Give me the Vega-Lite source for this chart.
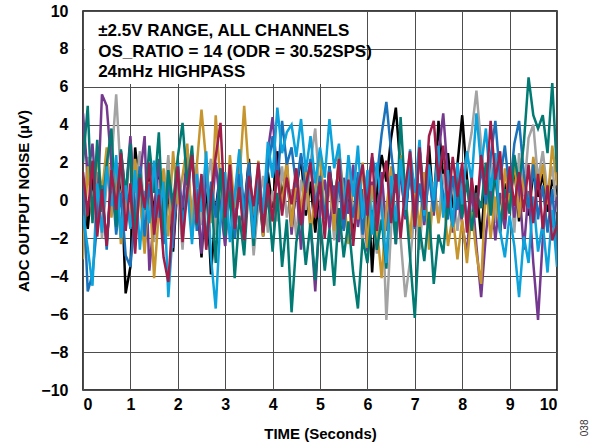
{
"$schema": "https://vega.github.io/schema/vega-lite/v6.json",
"width": 474, "height": 379,
"autosize": {"type": "none"},
"padding": {"left": 83, "top": 11, "right": 37, "bottom": 54},
"background": "white",
"config": {"font": "Liberation Sans", "view": {"stroke": "black", "strokeWidth": 1.5},
  "axis": {"grid": true, "gridColor": "#4d4d4d", "gridWidth": 1, "gridOpacity": 1, "ticks": false, "domain": false, "labelOverlap": false,
    "labelFont": "Liberation Sans", "labelFontSize": 16, "labelFontWeight": "bold", "labelColor": "black",
    "titleFont": "Liberation Sans", "titleFontSize": 15, "titleFontWeight": "bold", "titleColor": "black"},
  "axisX": {"labelPadding": 6, "titlePadding": 14},
  "axisY": {"labelPadding": 15, "titlePadding": 9}},
"datasets": {
"noise": [
{"t":0.0,"k":0.5,"g":-1.2,"b":1.0,"p":4.6,"o":-3.1,"e":2.0,"l":-0.8,"m":1.5},
{"t":0.1,"k":-1.5,"g":2.3,"b":-4.8,"p":1.2,"o":1.8,"e":5.0,"l":-2.5,"m":-0.8},
{"t":0.2,"k":1.2,"g":-0.5,"b":-3.9,"p":3.0,"o":-1.0,"e":-1.2,"l":-4.5,"m":2.1},
{"t":0.3,"k":-0.8,"g":1.5,"b":-1.2,"p":-0.7,"o":2.5,"e":3.2,"l":0.9,"m":-1.9},
{"t":0.4,"k":0.3,"g":-2.0,"b":0.8,"p":5.6,"o":0.4,"e":-0.6,"l":-1.7,"m":0.6},
{"t":0.5,"k":-2.2,"g":0.9,"b":-2.6,"p":5.0,"o":2.8,"e":1.9,"l":1.8,"m":-2.4},
{"t":0.6,"k":0.9,"g":2.0,"b":1.5,"p":1.8,"o":-0.9,"e":3.8,"l":-0.3,"m":1.6},
{"t":0.7,"k":-1.0,"g":5.6,"b":-1.8,"p":-1.3,"o":1.5,"e":-1.4,"l":2.4,"m":-0.5},
{"t":0.8,"k":1.7,"g":1.2,"b":0.4,"p":2.6,"o":-2.3,"e":2.7,"l":-2.0,"m":2.5},
{"t":0.9,"k":-4.9,"g":-0.8,"b":-2.9,"p":0.2,"o":0.6,"e":0.3,"l":0.8,"m":-1.6},
{"t":1.0,"k":-3.5,"g":3.2,"b":-3.5,"p":3.4,"o":-1.4,"e":3.0,"l":-1.5,"m":0.9},
{"t":1.1,"k":2.8,"g":0.4,"b":-0.6,"p":-0.9,"o":2.2,"e":-2.0,"l":1.6,"m":-2.8},
{"t":1.2,"k":0.5,"g":2.6,"b":1.8,"p":1.2,"o":0.1,"e":1.4,"l":-2.6,"m":1.2},
{"t":1.3,"k":-2.4,"g":-1.0,"b":-1.9,"p":3.4,"o":-2.8,"e":-0.5,"l":0.5,"m":-0.4},
{"t":1.4,"k":1.3,"g":0.7,"b":0.9,"p":-3.7,"o":1.0,"e":2.9,"l":-1.2,"m":2.0},
{"t":1.5,"k":-0.7,"g":-2.2,"b":-1.4,"p":-0.8,"o":-4.1,"e":0.4,"l":2.1,"m":-1.8},
{"t":1.6,"k":2.0,"g":1.1,"b":0.6,"p":2.2,"o":-0.6,"e":3.6,"l":-0.9,"m":0.3},
{"t":1.7,"k":-1.8,"g":-0.4,"b":-2.3,"p":-1.6,"o":1.7,"e":-1.8,"l":1.0,"m":-3.0},
{"t":1.8,"k":0.6,"g":2.4,"b":1.3,"p":0.9,"o":-1.9,"e":1.6,"l":-5.1,"m":-4.3},
{"t":1.9,"k":-2.7,"g":-1.6,"b":-0.5,"p":-2.5,"o":2.6,"e":-0.2,"l":-1.4,"m":-0.6},
{"t":2.0,"k":1.0,"g":0.6,"b":2.1,"p":1.5,"o":-0.2,"e":2.3,"l":1.9,"m":1.8},
{"t":2.1,"k":-0.9,"g":-2.6,"b":-1.1,"p":-0.4,"o":1.3,"e":4.1,"l":-1.8,"m":-2.2},
{"t":2.2,"k":1.9,"g":1.4,"b":0.2,"p":2.7,"o":3.0,"e":0.8,"l":0.7,"m":0.5},
{"t":2.3,"k":-1.6,"g":-0.7,"b":2.5,"p":-1.9,"o":-1.5,"e":2.9,"l":-2.3,"m":2.4},
{"t":2.4,"k":0.4,"g":1.9,"b":-1.6,"p":0.6,"o":1.8,"e":-1.3,"l":1.4,"m":-1.2},
{"t":2.5,"k":-3.0,"g":-1.3,"b":0.7,"p":-2.8,"o":4.8,"e":1.0,"l":-0.6,"m":1.4},
{"t":2.6,"k":1.1,"g":0.8,"b":-2.2,"p":1.7,"o":2.0,"e":-2.4,"l":2.6,"m":-2.6},
{"t":2.7,"k":-3.9,"g":2.2,"b":1.0,"p":-1.1,"o":-1.2,"e":0.6,"l":-3.0,"m":0.2},
{"t":2.8,"k":-0.5,"g":-1.8,"b":-0.9,"p":2.0,"o":4.5,"e":-3.3,"l":-5.7,"m":2.3},
{"t":2.9,"k":1.6,"g":0.3,"b":1.7,"p":-0.3,"o":0.9,"e":1.7,"l":-1.0,"m":4.1},
{"t":3.0,"k":-1.2,"g":-2.4,"b":-1.3,"p":-2.4,"o":-1.7,"e":-1.9,"l":1.5,"m":-0.9},
{"t":3.1,"k":0.8,"g":1.6,"b":0.5,"p":1.0,"o":2.4,"e":0.5,"l":-2.2,"m":1.9},
{"t":3.2,"k":-2.0,"g":-0.6,"b":-2.0,"p":-1.5,"o":-0.4,"e":-4.1,"l":0.3,"m":-1.5},
{"t":3.3,"k":1.4,"g":2.7,"b":1.4,"p":2.3,"o":1.1,"e":-0.8,"l":2.7,"m":0.7},
{"t":3.4,"k":-0.6,"g":-1.5,"b":-0.8,"p":-0.6,"o":5.0,"e":-2.9,"l":-1.3,"m":-2.1},
{"t":3.5,"k":2.2,"g":0.9,"b":2.0,"p":1.8,"o":1.4,"e":0.9,"l":0.8,"m":1.3},
{"t":3.6,"k":-1.3,"g":-2.9,"b":-1.7,"p":-2.0,"o":-0.8,"e":-2.4,"l":-2.0,"m":-0.3},
{"t":3.7,"k":0.9,"g":-0.2,"b":0.9,"p":0.4,"o":2.1,"e":1.2,"l":1.9,"m":2.0},
{"t":3.8,"k":-1.9,"g":1.3,"b":-0.6,"p":-1.4,"o":-1.9,"e":-1.6,"l":-0.7,"m":-1.7},
{"t":3.9,"k":1.5,"g":-1.7,"b":1.6,"p":2.6,"o":0.7,"e":0.3,"l":3.1,"m":0.9},
{"t":4.0,"k":-0.4,"g":0.5,"b":3.4,"p":4.4,"o":-1.1,"e":-2.7,"l":1.2,"m":-1.1},
{"t":4.1,"k":2.6,"g":-1.1,"b":0.8,"p":1.3,"o":1.6,"e":0.4,"l":4.9,"m":1.6},
{"t":4.2,"k":0.2,"g":1.8,"b":4.2,"p":-0.5,"o":-0.3,"e":-3.5,"l":2.5,"m":-0.8},
{"t":4.3,"k":1.7,"g":-0.9,"b":1.9,"p":2.0,"o":2.2,"e":-1.0,"l":3.6,"m":1.2},
{"t":4.4,"k":-1.4,"g":0.6,"b":2.8,"p":-1.8,"o":-1.4,"e":-5.9,"l":4.0,"m":-0.2},
{"t":4.5,"k":0.6,"g":-1.9,"b":0.7,"p":0.9,"o":1.2,"e":-2.2,"l":2.3,"m":1.7},
{"t":4.6,"k":2.3,"g":1.1,"b":2.5,"p":-2.6,"o":-0.6,"e":-0.7,"l":4.3,"m":-1.3},
{"t":4.7,"k":-0.8,"g":-0.5,"b":0.4,"p":1.4,"o":1.9,"e":-3.4,"l":1.5,"m":0.8},
{"t":4.8,"k":1.0,"g":2.0,"b":2.2,"p":-1.2,"o":-1.8,"e":-1.2,"l":3.4,"m":2.0},
{"t":4.9,"k":-1.7,"g":3.8,"b":-0.3,"p":-4.8,"o":0.5,"e":-4.2,"l":0.9,"m":-0.9},
{"t":5.0,"k":0.7,"g":0.2,"b":1.3,"p":-0.4,"o":2.5,"e":-0.9,"l":2.8,"m":1.0},
{"t":5.1,"k":-1.1,"g":-1.4,"b":-1.0,"p":1.1,"o":-0.7,"e":-3.7,"l":1.2,"m":-2.0},
{"t":5.2,"k":1.8,"g":1.0,"b":1.8,"p":-1.5,"o":1.4,"e":-1.5,"l":4.3,"m":1.5},
{"t":5.3,"k":-0.3,"g":-2.1,"b":-0.7,"p":0.8,"o":-1.6,"e":-4.5,"l":1.7,"m":-0.7},
{"t":5.4,"k":2.0,"g":0.8,"b":1.0,"p":-2.2,"o":2.7,"e":-0.4,"l":3.0,"m":2.2},
{"t":5.5,"k":-1.5,"g":-0.9,"b":-1.6,"p":1.2,"o":0.3,"e":-3.0,"l":-0.6,"m":-1.0},
{"t":5.6,"k":0.4,"g":1.7,"b":0.6,"p":-0.7,"o":-2.3,"e":-1.1,"l":2.4,"m":1.1},
{"t":5.7,"k":-2.1,"g":-1.2,"b":-0.9,"p":1.9,"o":1.0,"e":-3.8,"l":0.2,"m":-2.4},
{"t":5.8,"k":1.2,"g":0.4,"b":1.5,"p":-1.4,"o":-1.0,"e":-5.7,"l":2.9,"m":0.6},
{"t":5.9,"k":-0.7,"g":-2.3,"b":-1.8,"p":0.6,"o":2.0,"e":-2.0,"l":-0.9,"m":1.9},
{"t":6.0,"k":1.4,"g":1.5,"b":0.8,"p":-2.7,"o":-2.5,"e":-3.3,"l":1.6,"m":-0.8},
{"t":6.1,"k":-3.8,"g":-0.6,"b":2.3,"p":1.0,"o":0.8,"e":-0.5,"l":-1.8,"m":2.5},
{"t":6.2,"k":0.5,"g":-2.8,"b":1.2,"p":-0.8,"o":-1.4,"e":-2.6,"l":2.0,"m":-1.6},
{"t":6.3,"k":2.4,"g":0.9,"b":3.5,"p":1.5,"o":-4.1,"e":-1.0,"l":-0.4,"m":0.9},
{"t":6.4,"k":1.0,"g":-6.3,"b":5.2,"p":-1.6,"o":-0.5,"e":-3.6,"l":-3.3,"m":2.1},
{"t":6.5,"k":3.3,"g":-1.5,"b":2.6,"p":0.7,"o":1.8,"e":0.9,"l":1.3,"m":-1.2},
{"t":6.6,"k":4.9,"g":1.2,"b":0.4,"p":-2.3,"o":-1.3,"e":-2.3,"l":-1.1,"m":1.4},
{"t":6.7,"k":1.6,"g":-2.0,"b":2.0,"p":1.8,"o":2.4,"e":4.4,"l":2.2,"m":-2.0},
{"t":6.8,"k":-0.9,"g":-5.1,"b":-0.8,"p":-1.0,"o":0.2,"e":0.2,"l":-0.5,"m":0.7},
{"t":6.9,"k":1.8,"g":-3.2,"b":1.7,"p":2.0,"o":-2.0,"e":-3.0,"l":2.7,"m":2.6},
{"t":7.0,"k":-1.0,"g":-0.5,"b":-1.5,"p":-0.4,"o":1.1,"e":-6.2,"l":0.4,"m":-1.4},
{"t":7.1,"k":2.7,"g":-2.6,"b":0.9,"p":2.8,"o":-1.6,"e":-1.4,"l":3.2,"m":2.8},
{"t":7.2,"k":0.1,"g":0.6,"b":-1.1,"p":-1.3,"o":1.5,"e":-3.2,"l":-0.8,"m":-0.5},
{"t":7.3,"k":2.9,"g":-1.8,"b":1.4,"p":1.6,"o":-2.6,"e":-0.6,"l":1.9,"m":3.4},
{"t":7.4,"k":-0.6,"g":1.0,"b":-0.6,"p":-0.8,"o":0.7,"e":-4.4,"l":0.0,"m":4.2},
{"t":7.5,"k":4.2,"g":-0.9,"b":2.2,"p":2.5,"o":-1.2,"e":-1.8,"l":2.9,"m":1.0},
{"t":7.6,"k":1.1,"g":1.4,"b":0.3,"p":4.6,"o":0.4,"e":-2.8,"l":-0.9,"m":2.9},
{"t":7.7,"k":2.5,"g":-0.3,"b":-1.0,"p":1.2,"o":-2.4,"e":0.1,"l":1.6,"m":-0.4},
{"t":7.8,"k":-0.4,"g":0.8,"b":1.3,"p":-1.7,"o":-0.8,"e":-1.3,"l":-1.4,"m":2.3},
{"t":7.9,"k":1.9,"g":-1.6,"b":-0.5,"p":0.3,"o":-3.1,"e":1.5,"l":2.0,"m":0.2},
{"t":8.0,"k":4.5,"g":0.7,"b":1.6,"p":-1.2,"o":-1.0,"e":-0.9,"l":-0.2,"m":2.0},
{"t":8.1,"k":1.2,"g":2.2,"b":-1.2,"p":-2.9,"o":-3.3,"e":1.1,"l":2.6,"m":-1.7},
{"t":8.2,"k":-1.4,"g":3.6,"b":0.9,"p":0.8,"o":-0.6,"e":-1.6,"l":1.0,"m":1.2},
{"t":8.3,"k":0.8,"g":5.8,"b":-0.7,"p":-2.4,"o":-2.8,"e":0.4,"l":4.6,"m":-0.9},
{"t":8.4,"k":-2.0,"g":2.9,"b":1.8,"p":-5.1,"o":-4.4,"e":-0.4,"l":1.8,"m":2.4},
{"t":8.5,"k":1.3,"g":0.5,"b":-0.2,"p":-1.8,"o":0.9,"e":2.0,"l":3.8,"m":0.3},
{"t":8.6,"k":-0.5,"g":2.4,"b":2.3,"p":0.6,"o":-2.0,"e":-0.8,"l":0.5,"m":4.2},
{"t":8.7,"k":1.6,"g":-1.2,"b":4.2,"p":-2.1,"o":0.2,"e":1.7,"l":2.5,"m":1.1},
{"t":8.8,"k":-1.7,"g":1.9,"b":1.1,"p":0.4,"o":-1.5,"e":-1.4,"l":-1.6,"m":2.6},
{"t":8.9,"k":0.9,"g":-0.4,"b":2.9,"p":-1.5,"o":1.7,"e":0.6,"l":-3.0,"m":-1.0},
{"t":9.0,"k":-0.2,"g":1.6,"b":0.4,"p":1.3,"o":-0.3,"e":-0.7,"l":-0.8,"m":1.8},
{"t":9.1,"k":1.8,"g":-1.7,"b":3.0,"p":-0.9,"o":2.1,"e":2.4,"l":-2.4,"m":-0.3},
{"t":9.2,"k":-1.1,"g":2.5,"b":4.2,"p":0.9,"o":-0.9,"e":0.8,"l":-5.1,"m":1.5},
{"t":9.3,"k":1.0,"g":0.3,"b":1.4,"p":-2.6,"o":1.4,"e":3.0,"l":-1.9,"m":-0.6},
{"t":9.4,"k":-0.8,"g":3.3,"b":-0.4,"p":0.5,"o":-0.4,"e":6.5,"l":-3.3,"m":1.9},
{"t":9.5,"k":1.5,"g":4.0,"b":1.9,"p":-3.3,"o":2.3,"e":4.5,"l":0.2,"m":-1.2},
{"t":9.6,"k":0.2,"g":1.1,"b":-1.0,"p":-6.3,"o":0.6,"e":3.8,"l":-2.7,"m":1.4},
{"t":9.7,"k":1.4,"g":2.6,"b":0.8,"p":-2.0,"o":1.9,"e":4.5,"l":-1.2,"m":-1.5},
{"t":9.8,"k":-0.6,"g":0.4,"b":-1.7,"p":0.7,"o":-0.2,"e":2.5,"l":-3.8,"m":0.8},
{"t":9.9,"k":1.1,"g":1.8,"b":0.6,"p":-1.4,"o":2.9,"e":6.2,"l":-0.5,"m":-2.1},
{"t":10.0,"k":0.3,"g":-0.6,"b":-2.8,"p":0.2,"o":0.8,"e":1.5,"l":-3.5,"m":-1.3}
],
"notes": [
{"t":0.32,"value":8.94,"s":"±2.5V RANGE, ALL CHANNELS"},
{"t":0.32,"value":7.86,"s":"OS_RATIO = 14 (ODR = 30.52SPS)"},
{"t":0.32,"value":6.8,"s":"24mHz HIGHPASS"}
],
"code": [{"t":10.59,"value":-12.0,"s":"038"}]
},
"layer": [
{"data": {"values": [{}]},
 "mark": {"type": "rect", "fill": "white"},
 "encoding": {
  "x": {"datum": 0.03, "type": "quantitative", "scale": {"domain": [0, 10], "nice": false}, "axis": {"values": [0,1,2,3,4,5,6,7,8,9,10], "title": "TIME (Seconds)"}},
  "x2": {"datum": 5.8},
  "y": {"datum": 9.95, "type": "quantitative", "scale": {"domain": [-10, 10], "nice": false}, "axis": {"values": [-10,-8,-6,-4,-2,0,2,4,6,8,10], "title": "ADC OUTPUT NOISE (µV)"}},
  "y2": {"datum": 6.15}}},
{"data": {"name": "noise"},
 "transform": [{"fold": ["k","g","p","o","b","e","l","m"], "as": ["ch","value"]}],
 "mark": {"type": "line", "strokeWidth": 2.5, "strokeJoin": "miter", "clip": true},
 "encoding": {
  "x": {"field": "t", "type": "quantitative", "scale": {"domain": [0, 10], "nice": false}, "axis": {"values": [0,1,2,3,4,5,6,7,8,9,10], "title": "TIME (Seconds)"}},
  "y": {"field": "value", "type": "quantitative", "scale": {"domain": [-10, 10], "nice": false}, "axis": {"values": [-10,-8,-6,-4,-2,0,2,4,6,8,10], "title": "ADC OUTPUT NOISE (µV)"}},
  "color": {"field": "ch", "type": "nominal", "legend": null,
    "scale": {"domain": ["k","g","p","o","b","e","l","m"], "range": ["#000000","#a3a3a3","#74398f","#c6952e","#1a72bb","#007a72","#0ca3dc","#a01d4a"]}}}},
{"data": {"name": "notes"},
 "mark": {"type": "text", "align": "left", "baseline": "middle", "fontSize": 17, "fontWeight": "bold", "font": "Liberation Sans", "color": "black"},
 "encoding": {
  "x": {"field": "t", "type": "quantitative", "scale": {"domain": [0, 10], "nice": false}, "axis": {"values": [0,1,2,3,4,5,6,7,8,9,10], "title": "TIME (Seconds)"}},
  "y": {"field": "value", "type": "quantitative", "scale": {"domain": [-10, 10], "nice": false}, "axis": {"values": [-10,-8,-6,-4,-2,0,2,4,6,8,10], "title": "ADC OUTPUT NOISE (µV)"}},
  "text": {"field": "s"}}},
{"data": {"name": "code"},
 "mark": {"type": "text", "align": "center", "baseline": "middle", "angle": 270, "fontSize": 10, "font": "Liberation Sans", "color": "#333333"},
 "encoding": {
  "x": {"field": "t", "type": "quantitative", "scale": {"domain": [0, 10], "nice": false}, "axis": {"values": [0,1,2,3,4,5,6,7,8,9,10], "title": "TIME (Seconds)"}},
  "y": {"field": "value", "type": "quantitative", "scale": {"domain": [-10, 10], "nice": false}, "axis": {"values": [-10,-8,-6,-4,-2,0,2,4,6,8,10], "title": "ADC OUTPUT NOISE (µV)"}},
  "text": {"field": "s"}}}
]
}
